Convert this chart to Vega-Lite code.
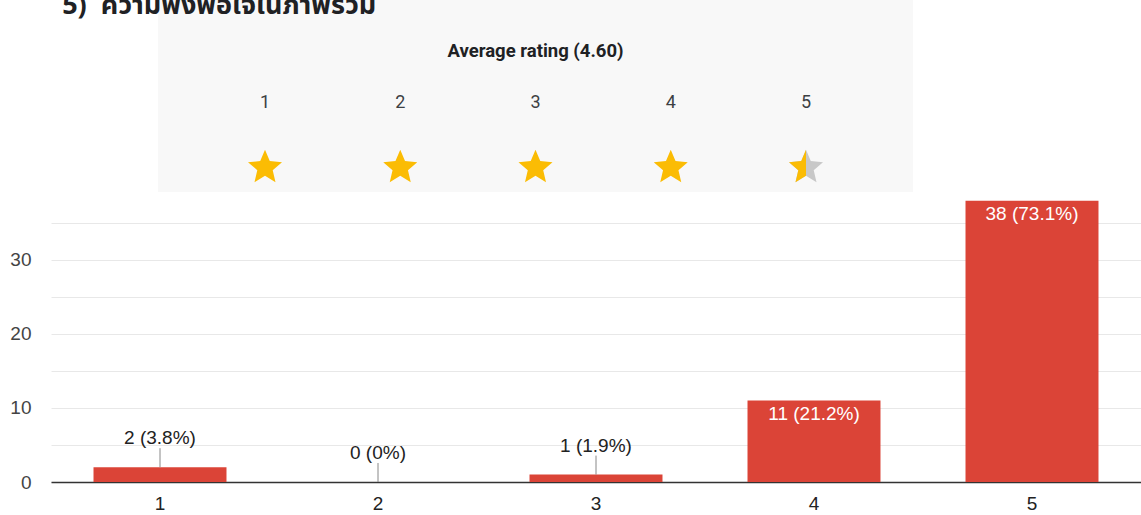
{
  "$schema": "https://vega.github.io/schema/vega-lite/v6.json",
  "width": 1141,
  "height": 515,
  "autosize": {"type": "fit", "contains": "padding"},
  "padding": 0,
  "background": "white",
  "config": {"view": {"stroke": null}, "font": "Liberation Sans"},
  "datasets": {
    "ratings": [
      {"rating": "1", "count": 2, "label": "2 (3.8%)"},
      {"rating": "2", "count": 0, "label": "0 (0%)"},
      {"rating": "3", "count": 1, "label": "1 (1.9%)"},
      {"rating": "4", "count": 11, "label": "11 (21.2%)"},
      {"rating": "5", "count": 38, "label": "38 (73.1%)"}
    ],
    "stars": [
      {"rating": 1, "fill": "full"},
      {"rating": 2, "fill": "full"},
      {"rating": 3, "fill": "full"},
      {"rating": 4, "fill": "full"},
      {"rating": 5, "fill": "half"}
    ]
  },
  "layer": [
    {
      "data": {"name": "ratings"},
      "encoding": {
        "x": {
          "field": "rating", "type": "ordinal",
          "scale": {"paddingInner": 0.39, "paddingOuter": 0.195},
          "axis": {"title": null, "labelAngle": 0, "labelFontSize": 19, "labelColor": "#222222", "labelFont": "Liberation Sans", "ticks": false, "labelPadding": 12, "domainColor": "#333333", "domainWidth": 1.3, "grid": false, "minExtent": 33, "maxExtent": 33}
        },
        "y": {
          "field": "count", "type": "quantitative",
          "scale": {"domain": [0, 65.1], "nice": false},
          "axis": {"title": null, "values": [0, 5, 10, 15, 20, 25, 30, 35], "labelExpr": "datum.value % 10 === 0 ? datum.label : ''", "grid": true, "gridColor": "#e8e8e8", "gridWidth": 1, "domain": false, "ticks": false, "tickSize": 0, "labelPadding": 20, "labelFontSize": 19, "labelColor": "#444444", "labelFont": "Liberation Sans", "minExtent": 51, "maxExtent": 51}
        }
      },
      "layer": [
        {"mark": {"type": "bar", "color": "#db4437"}},
        {
          "transform": [{"filter": "datum.count < 5"}],
          "mark": {"type": "rule", "color": "#888888", "strokeWidth": 1, "y2Offset": -19},
          "encoding": {"y2": {"field": "count"}}
        },
        {
          "transform": [{"filter": "datum.count < 5"}],
          "mark": {"type": "text", "dy": -29, "fontSize": 19, "color": "#222222", "font": "Liberation Sans"},
          "encoding": {"text": {"field": "label"}}
        },
        {
          "transform": [{"filter": "datum.count >= 5"}],
          "mark": {"type": "text", "dy": 13, "fontSize": 19, "color": "#ffffff", "font": "Liberation Sans"},
          "encoding": {"text": {"field": "label"}}
        }
      ]
    },
    {
      "data": {"name": "stars"},
      "layer": [
        {
          "mark": {"type": "rect", "color": "#f8f8f8", "xOffset": -107, "x2Offset": 107, "yOffset": -5, "y2Offset": 26},
          "encoding": {
            "x": {"aggregate": "min", "field": "rating", "type": "quantitative", "scale": {"domain": [1, 5], "range": [214, 755], "nice": false, "zero": false}, "axis": null},
            "x2": {"aggregate": "max", "field": "rating"},
            "y": {"datum": "title", "type": "nominal", "scale": {"type": "point", "domain": ["title", "heading", "number", "star"], "range": [5, 166], "padding": 0}, "axis": null},
            "y2": {"datum": "star"}
          }
        },
        {
          "data": {"values": [{"t": "5)\u00a0\u00a0ความพึงพอใจในภาพรวม"}]},
          "mark": {"type": "text", "align": "left", "baseline": "alphabetic", "dy": 9, "fontSize": 27, "fontWeight": "bold", "clip": true, "color": "#202124", "font": "Noto Sans Thai, Noto Sans, DejaVu Sans, sans-serif"},
          "encoding": {
            "x": {"datum": -0.5, "type": "quantitative", "axis": null},
            "y": {"datum": "title", "type": "nominal", "axis": null},
            "text": {"field": "t"}
          }
        },
        {
          "data": {"values": [{"t": "Average rating (4.60)"}]},
          "mark": {"type": "text", "dy": -8, "fontSize": 18.5, "fontWeight": "bold", "color": "#202124", "font": "Roboto"},
          "encoding": {
            "x": {"datum": 3, "type": "quantitative", "axis": null},
            "y": {"datum": "heading", "type": "nominal", "axis": null},
            "text": {"field": "t"}
          }
        },
        {
          "mark": {"type": "text", "dy": -9, "fontSize": 18, "color": "#3c4043", "font": "Roboto"},
          "encoding": {
            "x": {"field": "rating", "type": "quantitative", "axis": null},
            "y": {"datum": "number", "type": "nominal", "axis": null},
            "text": {"field": "rating"}
          }
        },
        {
          "transform": [{"filter": "datum.fill === 'half'"}],
          "mark": {"type": "point", "filled": true, "opacity": 1, "size": 1156, "color": "#c8c8c8", "strokeWidth": 0, "shape": "M0,-0.95L0.281,-0.287L1,-0.226L0.454,0.247L0.618,0.95L0,0.577L-0.618,0.95L-0.454,0.247L-1,-0.226L-0.281,-0.287Z"},
          "encoding": {
            "x": {"field": "rating", "type": "quantitative", "axis": null},
            "y": {"datum": "star", "type": "nominal", "axis": null}
          }
        },
        {
          "mark": {"type": "point", "filled": true, "opacity": 1, "size": 1156, "color": "#fbbc04", "strokeWidth": 0},
          "encoding": {
            "x": {"field": "rating", "type": "quantitative", "axis": null},
            "y": {"datum": "star", "type": "nominal", "axis": null},
            "shape": {
              "field": "fill", "type": "nominal", "legend": null,
              "scale": {"domain": ["full", "half"], "range": ["M0,-0.95L0.281,-0.287L1,-0.226L0.454,0.247L0.618,0.95L0,0.577L-0.618,0.95L-0.454,0.247L-1,-0.226L-0.281,-0.287Z", "M0,-0.95L0,0.577L-0.618,0.95L-0.454,0.247L-1,-0.226L-0.281,-0.287Z"]}
            }
          }
        }
      ]
    }
  ],
  "resolve": {"scale": {"x": "independent", "y": "independent", "shape": "independent"}}
}
